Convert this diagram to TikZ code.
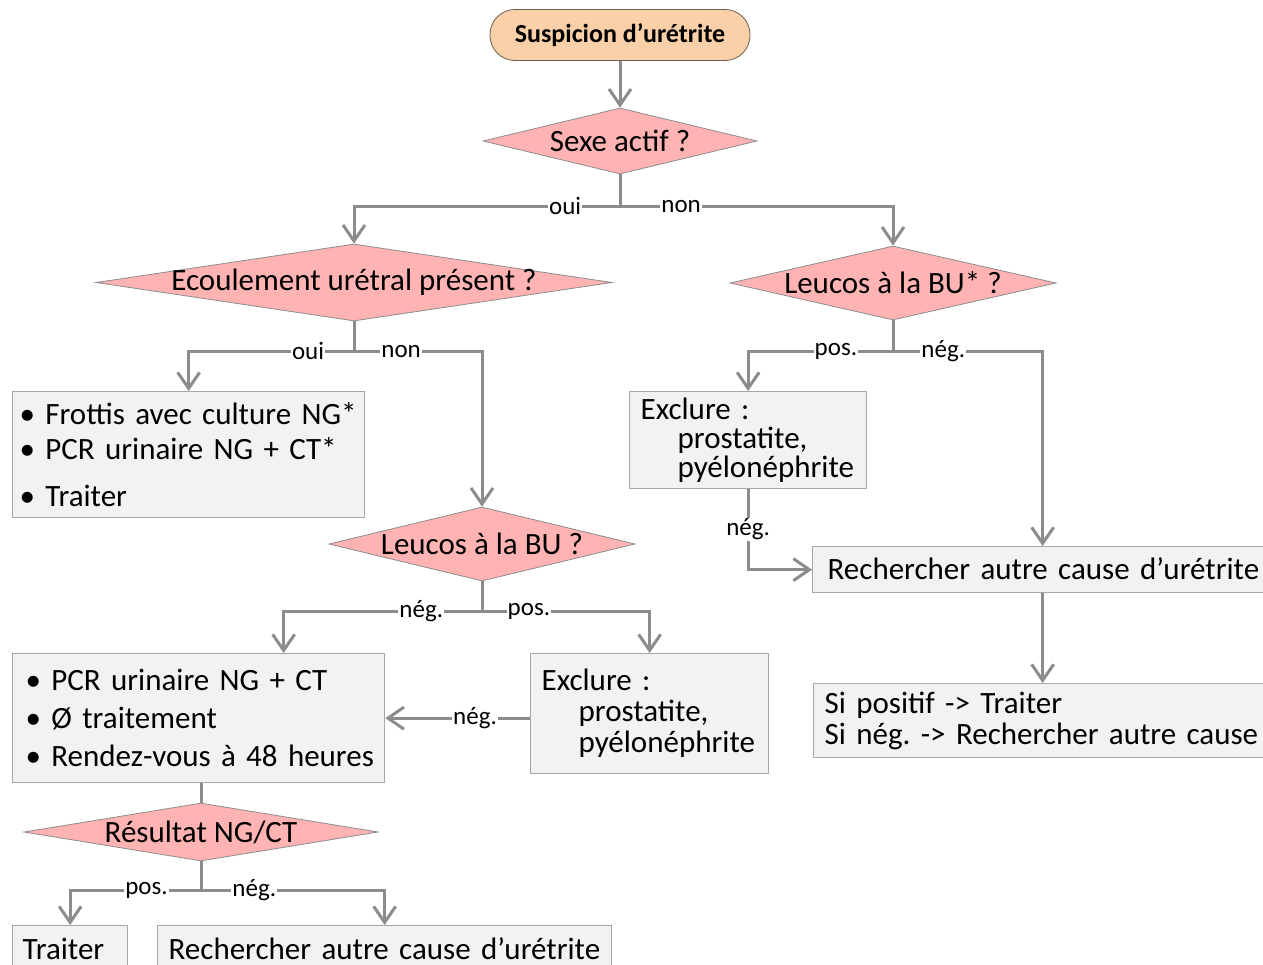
\documentclass[tikz,border=0pt]{standalone}
\usepackage{fontspec}
\setmainfont{Carlito}
\usetikzlibrary{shapes.geometric}
\usetikzlibrary{arrows.meta}

\definecolor{pinkfill}{HTML}{FFB3B3}
\definecolor{peach}{HTML}{FAD0A8}
\definecolor{peachline}{HTML}{6E5E50}
\definecolor{boxfill}{HTML}{F2F2F2}
\definecolor{boxline}{HTML}{A6A6A6}
\definecolor{flowgray}{HTML}{8C8C8C}

\newcommand{\dtext}[1]{\makebox[0pt]{#1}}
\frenchspacing

\begin{document}
\begin{tikzpicture}[x=1pt, y=-1pt,
    decision/.style={diamond, draw=flowgray, line width=0.8pt, fill=pinkfill,
        inner sep=0pt, font=\fontsize{31}{36}\selectfont},
    box/.style={rectangle, draw=boxline, line width=1.3pt, fill=boxfill,
        anchor=north west, inner xsep=11pt, inner ysep=0pt, align=left,
        font=\fontsize{31}{35}\selectfont},
    flow/.style={draw=flowgray, line width=3pt,
        -{Straight Barb[length=16pt, width=22pt]}},
    link/.style={draw=flowgray, line width=3pt},
    lbl/.style={fill=white, inner sep=1pt, font=\fontsize{25}{28}\selectfont}]

    \useasboundingbox (0,0) rectangle (1263,964);
    \fill[white] (0,0) rectangle (1263,964);
    \clip (0,0) rectangle (1263,964);

    % start
    \node[rectangle, rounded corners=25pt, draw=peachline, line width=0.8pt, fill=peach,
        minimum width=260pt, minimum height=51pt,
        font=\bfseries\fontsize{26}{30}\selectfont] (start) at (620,35) {Suspicion d’urétrite};

    % decisions
    \node[decision, minimum width=274pt, minimum height=66pt] (sexe) at (620,141) {\dtext{Sexe actif ?}};
    \node[decision, minimum width=516pt, minimum height=77pt] (ecoul) at (354,282.5) {\dtext{Ecoulement urétral présent ?}};
    \node[decision, minimum width=326pt, minimum height=74pt] (bu1) at (893,283) {\dtext{Leucos à la BU* ?}};
    \node[decision, minimum width=306pt, minimum height=74pt] (bu2) at (482,544) {\dtext{Leucos à la BU ?}};
    \node[decision, minimum width=354pt, minimum height=58pt] (res) at (201,832) {\dtext{Résultat NG/CT}};

    % boxes
    \node[box, inner xsep=7pt, text width=338pt, minimum height=126pt] (box1) at (12,391)
        {\mbox{\textbullet\ Frottis avec culture NG*}\\
         \mbox{\textbullet\ PCR urinaire NG + CT*}\\[12pt]
         \textbullet\ Traiter};
    \node[box, text width=215pt, minimum height=97pt, font=\fontsize{31}{29}\selectfont] (excl1) at (629,391)
        {Exclure :\\ \hspace*{37pt}prostatite,\\ \hspace*{37pt}pyélonéphrite};
    \node[box, inner xsep=15pt, text width=430pt, minimum height=46pt] (rech1) at (812,546)
        {\raisebox{2pt}{\mbox{Rechercher autre cause d’urétrite}}};
    \node[box, text width=436pt, minimum height=74pt, font=\fontsize{31}{31}\selectfont] (sipos) at (813,683)
        {\mbox{Si positif -> Traiter}\\ \mbox{Si nég. -> Rechercher autre cause}};
    \node[box, inner xsep=13pt, text width=346pt, minimum height=129pt, font=\fontsize{31}{38}\selectfont] (pcr) at (12,653)
        {\mbox{\textbullet\ PCR urinaire NG + CT}\\
         \mbox{\textbullet\ Ø traitement}\\
         \mbox{\textbullet\ Rendez-vous à 48 heures}};
    \node[box, text width=216pt, minimum height=120pt, font=\fontsize{31}{31}\selectfont] (excl2) at (530,653)
        {Exclure :\\ \hspace*{37pt}prostatite,\\ \hspace*{37pt}pyélonéphrite};
    \node[box, inner xsep=10pt, text width=95pt, minimum height=46pt] (traiter) at (12,925) {Traiter};
    \node[box, text width=432pt, minimum height=46pt] (rech2) at (157,925) {\mbox{Rechercher autre cause d’urétrite}};

    % connectors
    \draw[flow] (start.south) -- (sexe.north);
    \draw[flow] (sexe.south) -- ++(0,32) -| node[lbl, pos=0.103] {oui} (ecoul.north);
    \draw[flow] (sexe.south) -- ++(0,32) -| node[lbl, pos=0.112] {non} (bu1.north);

    \draw[flow] (ecoul.south) -- ++(0,30) -| node[lbl, pos=0.139] {oui} (box1.north);
    \draw[flow] (ecoul.south) -- ++(0,30) -| node[lbl, pos=0.184] {non} (bu2.north);

    \draw[flow] (bu1.south) -- ++(0,31) -| node[lbl, pos=0.197] {pos.} (excl1.north);
    \draw[flow] (bu1.south) -- ++(0,31) -| node[lbl, pos=0.168] {nég.} (rech1.north);
    \draw[flow] (excl1.south) |- node[lbl, pos=0.25] {nég.} (rech1.west);
    \draw[flow] (rech1.south) -- (sipos.north);

    \draw[flow] (bu2.south) -- ++(0,30) -| node[lbl, pos=0.153] {nég.} ([xshift=85pt]pcr.north);
    \draw[flow] (bu2.south) -- ++(0,30) -| node[lbl, pos=0.14] {pos.} (excl2.north);
    \draw[flow] (excl2.west |- pcr.east) -- node[lbl, pos=0.38] {nég.} (pcr.east);

    \draw[link] (pcr.south -| res.north) -- (res.north);
    \draw[flow] (res.south) -- ++(0,29) -| node[lbl, pos=0.208] {pos.} (traiter.north);
    \draw[flow] (res.south) -- ++(0,29) -| node[lbl, pos=0.145] {nég.} (rech2.north);

\end{tikzpicture}
\end{document}
